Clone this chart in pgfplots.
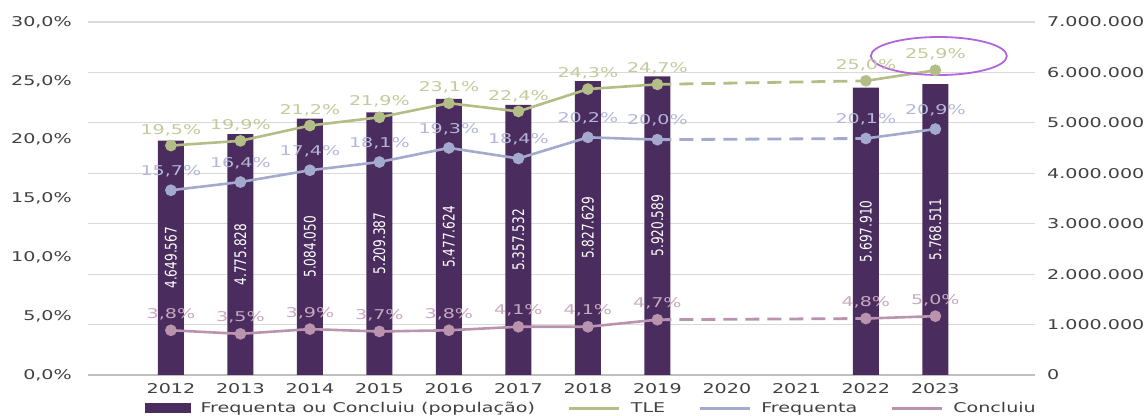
\documentclass[border=0pt]{standalone}
\usepackage{fontspec}
\setmainfont{DejaVu Sans}[FakeStretch=1.42]
\newfontfamily\barfont{DejaVu Sans}[FakeStretch=0.76]
\usepackage{pgfplots}
\usepackage{pgfplotstable}
\pgfplotsset{compat=1.18}
\definecolor{barcol}{HTML}{4B2C5E}
\definecolor{tlecol}{HTML}{B3BE86}
\definecolor{tlelab}{HTML}{C3CA9A}
\definecolor{frqcol}{HTML}{A4A9CE}
\definecolor{frqlab}{HTML}{B3B7D8}
\definecolor{concol}{HTML}{BA93AE}
\definecolor{conlab}{HTML}{C9A9BF}
\definecolor{gridcol}{HTML}{D9D9D9}
\definecolor{axcol}{HTML}{BFBFBF}
\definecolor{txtcol}{HTML}{404040}
\definecolor{ellcol}{HTML}{B266DD}
\newcommand\mf{\fontsize{13.5}{16}\selectfont}

\pgfplotstableread{
year v lab
2012 4649567 4.649.567
2013 4775828 4.775.828
2014 5084050 5.084.050
2015 5209387 5.209.387
2016 5477624 5.477.624
2017 5357532 5.357.532
2018 5827629 5.827.629
2019 5920589 5.920.589
2022 5697910 5.697.910
2023 5768511 5.768.511
}\bars

\pgfplotstableread{
year tle frq con tlel frql conl
2012 19.5 15.7 3.8 19,5 15,7 3,8
2013 19.9 16.4 3.5 19,9 16,4 3,5
2014 21.2 17.4 3.9 21,2 17,4 3,9
2015 21.9 18.1 3.7 21,9 18,1 3,7
2016 23.1 19.3 3.8 23,1 19,3 3,8
2017 22.4 18.4 4.1 22,4 18,4 4,1
2018 24.3 20.2 4.1 24,3 20,2 4,1
2019 24.7 20.0 4.7 24,7 20,0 4,7
}\linesA

\pgfplotstableread{
year tle frq con tlel frql conl
2022 25.0 20.1 4.8 25,0 20,1 4,8
2023 25.9 20.9 5.0 25,9 20,9 5,0
}\linesB

\pgfplotsset{
  geom/.style={scale only axis, width=947bp, height=353bp, at={(0,0)}, anchor=south west,
    xmin=2010.807, xmax=2024.434, major tick length=0pt,
    tick label style={font=\mf, text=txtcol, inner sep=0pt}},
  solidline/.style={line width=2.6bp, mark=*, mark size=4.5bp, mark options={solid},
    forget plot, point meta=explicit symbolic, nodes near coords={\pgfplotspointmeta\%},
    every node near coord/.append style={font=\mf, inner sep=0pt, anchor=south}},
}

\begin{document}
\begin{tikzpicture}
\begin{axis}[geom,
  ymin=0, ymax=7000000,
  axis x line*=bottom, axis y line*=right,
  x axis line style={axcol, line width=1.5bp}, y axis line style={draw=none},
  xtick={2012,2013,2014,2015,2016,2017,2018,2019,2020,2021,2022,2023},
  xticklabels={2012,2013,2014,2015,2016,2017,2018,2019,2020,2021,2022,2023},
  ytick={0,1000000,2000000,3000000,4000000,5000000,6000000,7000000},
  yticklabels={0,1.000.000,2.000.000,3.000.000,4.000.000,5.000.000,6.000.000,7.000.000},
  scaled y ticks=false,
  ymajorgrids, grid style={gridcol, line width=1.2bp},
  xticklabel shift=8bp, yticklabel shift=12bp,
]
\addplot[ybar, bar width=26bp, bar shift=0pt, fill=barcol, draw=none] table[x=year, y=v] {\bars};
\addplot[draw=none, mark=none, point meta=explicit symbolic, nodes near coords={\pgfplotspointmeta},
  every node near coord/.append style={rotate=90, anchor=center, text=white, inner sep=0pt,
  font=\barfont\fontsize{16}{18}\selectfont}]
  table[x=year, y expr=\thisrow{v}/2, meta=lab] {\bars};
\end{axis}

\begin{axis}[geom,
  ymin=0, ymax=30,
  axis x line=none, xtick=\empty,
  axis y line*=left, y axis line style={draw=none},
  ytick={0,5,10,15,20,25,30},
  yticklabels={{0,0\%},{5,0\%},{10,0\%},{15,0\%},{20,0\%},{25,0\%},{30,0\%}},
  yticklabel shift=16bp,
  legend columns=4,
  legend style={at={(0.0602,-0.0935)}, anchor=west, draw=none, fill=none, inner sep=0pt,
    font=\mf, text=txtcol, nodes={inner sep=0pt},
    /tikz/every odd column/.append style={column sep=10bp},
    /tikz/every even column/.append style={column sep=33bp}},
  clip=false,
]
\addplot[tlecol, line width=2.8bp, dash pattern=on 14bp off 8bp, forget plot] coordinates {(2019,24.7) (2022,25.0)};
\addplot[frqcol, line width=2.8bp, dash pattern=on 14bp off 8bp, forget plot] coordinates {(2019,20.0) (2022,20.1)};
\addplot[concol, line width=2.8bp, dash pattern=on 14bp off 8bp, forget plot] coordinates {(2019,4.7) (2022,4.8)};

\addplot[solidline, tlecol, every node near coord/.append style={text=tlelab, yshift=8.5bp}] table[x=year, y=tle, meta=tlel] {\linesA};
\addplot[solidline, tlecol, every node near coord/.append style={text=tlelab, yshift=8.5bp}] table[x=year, y=tle, meta=tlel] {\linesB};
\addplot[solidline, frqcol, every node near coord/.append style={text=frqlab, yshift=12bp}] table[x=year, y=frq, meta=frql] {\linesA};
\addplot[solidline, frqcol, every node near coord/.append style={text=frqlab, yshift=12bp}] table[x=year, y=frq, meta=frql] {\linesB};
\addplot[solidline, concol, every node near coord/.append style={text=conlab, yshift=9bp}] table[x=year, y=con, meta=conl] {\linesA};
\addplot[solidline, concol, every node near coord/.append style={text=conlab, yshift=9bp}] table[x=year, y=con, meta=conl] {\linesB};

\addlegendimage{legend image code/.code={\fill[barcol] (0bp,-4.5bp) rectangle (45bp,4.5bp);}}
\addlegendentry{Frequenta ou Concluiu (população)}
\addlegendimage{legend image code/.code={\draw[tlecol, line width=3bp] (0bp,0bp) -- (50bp,0bp);}}
\addlegendentry{TLE}
\addlegendimage{legend image code/.code={\draw[frqcol, line width=3bp] (0bp,0bp) -- (50bp,0bp);}}
\addlegendentry{Frequenta}
\addlegendimage{legend image code/.code={\draw[concol, line width=3bp] (0bp,0bp) -- (50bp,0bp);}}
\addlegendentry{Concluiu}

\draw[ellcol, line width=1.8bp] (axis cs:2023.05,27.11) ellipse [x radius=68bp, y radius=19bp];
\end{axis}
\pgfresetboundingbox
\path (-88bp,-41bp) rectangle (1060bp,375bp);
\end{tikzpicture}
\end{document}
